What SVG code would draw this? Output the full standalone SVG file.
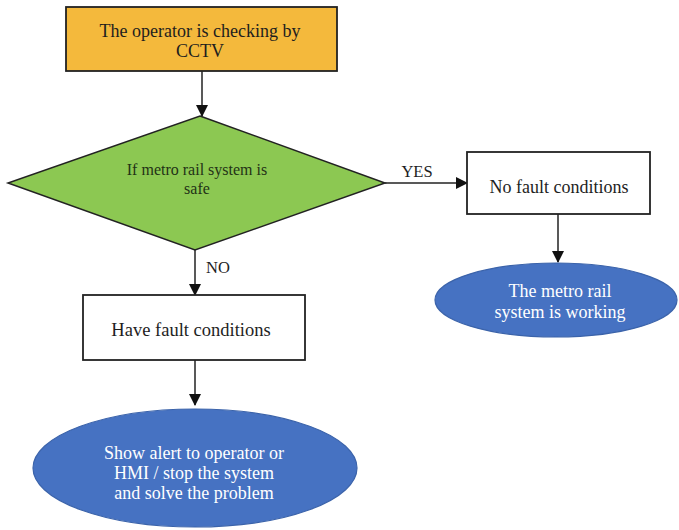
<svg xmlns="http://www.w3.org/2000/svg" width="679" height="530" viewBox="0 0 679 530">
  <style>
    .lbl { font-family: "Liberation Serif", "Times New Roman", serif; font-size: 18px; fill: #1e1e1e; text-anchor: middle; }
    .edge-lbl { font-family: "Liberation Serif", "Times New Roman", serif; font-size: 16.5px; fill: #1e1e1e; text-anchor: middle; }
    .lbl-d { font-family: "Liberation Serif", "Times New Roman", serif; font-size: 16px; fill: #233216; text-anchor: middle; }
    .lbl-w { font-family: "Liberation Serif", "Times New Roman", serif; font-size: 18px; fill: #ffffff; text-anchor: middle; }
    .edge { stroke: #222; stroke-width: 1.5; fill: none; }
    .box { fill: #ffffff; stroke: #222; stroke-width: 1.8; }
    .start { fill: #F4B93C; stroke: #222; stroke-width: 1.8; }
    .decision { fill: #8CC852; stroke: #222; stroke-width: 1.5; }
    .term { fill: #4672C2; stroke: #3B63AA; stroke-width: 1.2; }
  </style>
  <defs>
    <marker id="arrow" markerWidth="12" markerHeight="12" refX="11" refY="6" orient="auto" markerUnits="userSpaceOnUse">
      <path d="M0,0 L12,6 L0,12 Z" fill="#111"/>
    </marker>
  </defs>
  <rect width="679" height="530" fill="#ffffff"/>

  <!-- connectors -->
  <g id="connectors">
    <line class="edge" x1="202" y1="71" x2="202" y2="116" marker-end="url(#arrow)"/>
    <line class="edge" x1="385" y1="183" x2="467" y2="183" marker-end="url(#arrow)"/>
    <line class="edge" x1="195" y1="250" x2="195" y2="295" marker-end="url(#arrow)"/>
    <line class="edge" x1="558" y1="214" x2="558" y2="262" marker-end="url(#arrow)"/>
    <line class="edge" x1="195" y1="360" x2="195" y2="405" marker-end="url(#arrow)"/>
    <text class="edge-lbl" x="417" y="177">YES</text>
    <text class="edge-lbl" x="218" y="273">NO</text>
  </g>

  <!-- start: CCTV check -->
  <g id="node-check">
    <rect class="start" x="66" y="7" width="271" height="64"/>
    <text class="lbl" x="200" y="37">The operator is checking by</text>
    <text class="lbl" x="200" y="57">CCTV</text>
  </g>

  <!-- decision -->
  <g id="node-safe">
    <polygon class="decision" points="200,116 385,183 195,250 8,183"/>
    <text class="lbl-d" x="197" y="175">If metro rail system is</text>
    <text class="lbl-d" x="197" y="194">safe</text>
  </g>

  <!-- YES branch -->
  <g id="node-no-fault">
    <rect class="box" x="467" y="152" width="183" height="62"/>
    <text class="lbl" x="559" y="193">No fault conditions</text>
  </g>
  <g id="node-working">
    <ellipse class="term" cx="556" cy="300" rx="121" ry="37"/>
    <text class="lbl-w" x="560" y="297">The metro rail</text>
    <text class="lbl-w" x="560" y="318">system is working</text>
  </g>

  <!-- NO branch -->
  <g id="node-fault">
    <rect class="box" x="83" y="295" width="222" height="65"/>
    <text class="lbl" x="191" y="336" style="font-size:18.5px">Have fault conditions</text>
  </g>
  <g id="node-alert">
    <ellipse class="term" cx="195" cy="468" rx="162" ry="59"/>
    <text class="lbl-w" x="194" y="459">Show alert to operator or</text>
    <text class="lbl-w" x="194" y="479">HMI / stop the system</text>
    <text class="lbl-w" x="194" y="499">and solve the problem</text>
  </g>
</svg>
